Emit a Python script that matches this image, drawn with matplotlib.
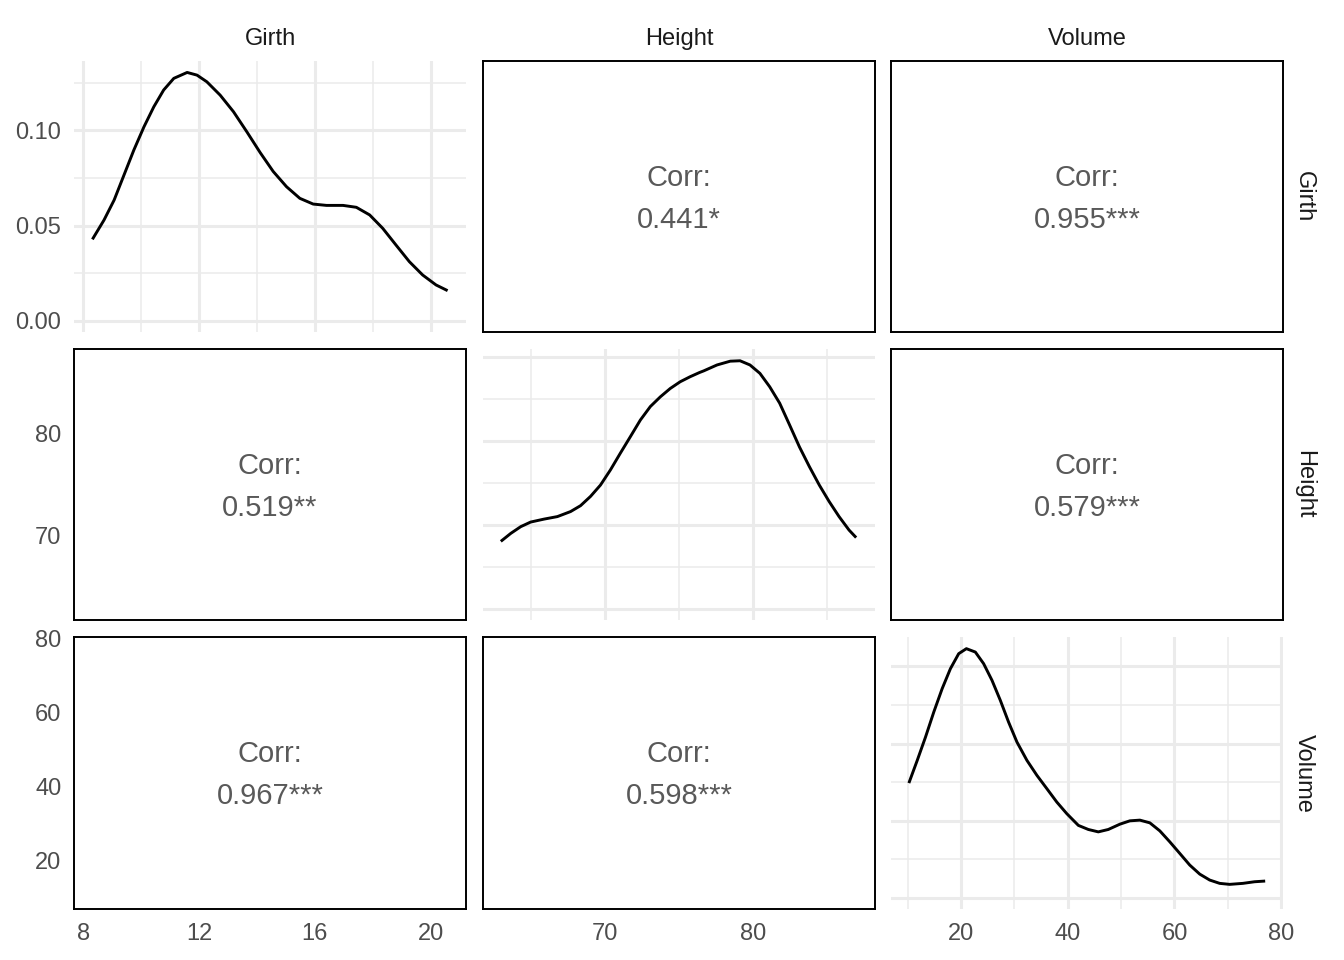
#!/usr/bin/python3
# -*- coding: utf-8 -*-
import matplotlib
matplotlib.use('Agg')
from matplotlib import pyplot as plt

plt.rcParams['font.family'] = ['Liberation Sans', 'DejaVu Sans']

# 变量名称和相关系数
var_names = ['Girth', 'Height', 'Volume']
corr_labels = {(0, 1): '0.441*', (0, 2): '0.955***', (1, 2): '0.579***',
               (1, 0): '0.519**', (2, 0): '0.967***', (2, 1): '0.598***'}

# 各变量坐标范围
var_limits = {'Girth': (7.685, 21.215), 'Height': (61.8, 88.2), 'Volume': (6.86, 80.34)}
var_ticks = {'Girth': [8, 12, 16, 20], 'Height': [70, 80], 'Volume': [20, 40, 60, 80]}
var_minor = {'Girth': [10, 14, 18], 'Height': [65, 75, 85], 'Volume': [10, 30, 50, 70]}

# 密度曲线
girth_x = [8.32, 8.72, 9.07, 9.41, 9.75, 10.10, 10.44, 10.78, 11.13, 11.59, 11.93, 12.27,
           12.73, 13.19, 13.65, 14.11, 14.56, 15.02, 15.48, 15.94, 16.40, 16.97, 17.43,
           17.89, 18.34, 18.80, 19.26, 19.72, 20.18, 20.58]
girth_d = [0.0428, 0.0529, 0.0634, 0.0765, 0.0896, 0.1018, 0.1123, 0.1211, 0.1272, 0.1303,
           0.1289, 0.1254, 0.1184, 0.1097, 0.0992, 0.0883, 0.0784, 0.0704, 0.0643, 0.0613,
           0.0606, 0.0606, 0.0596, 0.0556, 0.0486, 0.0398, 0.0311, 0.0241, 0.0189, 0.0159]

height_x = [63.0, 63.67, 64.34, 65.01, 65.91, 66.81, 67.70, 68.37, 69.04, 69.71, 70.38, 71.05,
            71.72, 72.40, 73.07, 73.74, 74.41, 75.08, 75.75, 76.38, 76.67, 77.56, 78.45,
            79.11, 79.78, 80.45, 81.11, 81.78, 82.45, 83.11, 83.78, 84.45, 85.11, 85.78,
            86.45, 86.93]
height_d = [0.0161, 0.0180, 0.0196, 0.0207, 0.0214, 0.0220, 0.0232, 0.0246, 0.0268, 0.0295,
            0.0331, 0.0371, 0.0410, 0.0450, 0.0482, 0.0505, 0.0525, 0.0541, 0.0553, 0.0563,
            0.0567, 0.0581, 0.0590, 0.0591, 0.0581, 0.0561, 0.0529, 0.0490, 0.0438, 0.0386,
            0.0339, 0.0295, 0.0256, 0.0220, 0.0188, 0.0170]

volume_x = [10.21, 11.78, 13.33, 14.88, 16.45, 18.0, 19.55, 20.99, 22.67, 24.22, 25.79,
            27.35, 28.90, 30.47, 32.34, 34.21, 36.07, 37.94, 39.81, 41.98, 43.85, 45.72,
            47.59, 49.78, 51.64, 53.51, 55.38, 57.25, 59.12, 60.99, 62.86, 64.73, 66.60,
            68.47, 70.34, 72.82, 75.01, 77.0]
volume_d = [0.01488, 0.01782, 0.02084, 0.02408, 0.02711, 0.02970, 0.03164, 0.03229, 0.03185,
            0.03035, 0.02819, 0.02560, 0.02278, 0.02019, 0.01782, 0.01588, 0.01416, 0.01242,
            0.01092, 0.00940, 0.00887, 0.00856, 0.00887, 0.00956, 0.00999, 0.01008, 0.00973,
            0.00869, 0.00727, 0.00577, 0.00426, 0.00309, 0.00232, 0.00189, 0.00176, 0.00189,
            0.00210, 0.00219]

dens_x = {'Girth': girth_x, 'Height': height_x, 'Volume': volume_x}
dens_y = {'Girth': girth_d, 'Height': height_d, 'Volume': volume_d}
dens_limits = {'Girth': (-0.00577, 0.1363), 'Height': (-0.00262, 0.0619), 'Volume': (-0.00143, 0.0338)}
dens_ticks = {'Girth': [0.0, 0.05, 0.10], 'Height': [0.0, 0.02, 0.04, 0.06], 'Volume': [0.0, 0.01, 0.02, 0.03]}
dens_minor = {'Girth': [0.025, 0.075, 0.125], 'Height': [0.01, 0.03, 0.05], 'Volume': [0.005, 0.015, 0.025]}

W, H = 1344, 960
col_px = [(74, 466), (483, 875), (891, 1283)]
row_px = [(61, 332), (349, 620), (637, 909)]
GRID = '#EBEBEB'
TICK = '#4D4D4D'

fig = plt.figure(figsize=(W / 100, H / 100), dpi=100)

for i, rv in enumerate(var_names):
    for j, cv in enumerate(var_names):
        x0, x1 = col_px[j]
        y0, y1 = row_px[i]
        ax = fig.add_axes([x0 / W, 1 - y1 / H, (x1 - x0) / W, (y1 - y0) / H])
        ax.set_xlim(var_limits[cv])
        ax.set_xticks(var_ticks[cv])
        ax.tick_params(length=0, labelsize=17, labelcolor=TICK, pad=10)
        ax.tick_params(axis='y', pad=9)
        if i == j:
            # 对角线：密度曲线
            ax.set_ylim(dens_limits[cv])
            ax.set_yticks(dens_ticks[cv])
            ax.set_xticks(var_minor[cv], minor=True)
            ax.set_yticks(dens_minor[cv], minor=True)
            ax.tick_params(which='minor', length=0)
            ax.grid(True, which='major', color=GRID, linewidth=2.2)
            ax.grid(True, which='minor', color=GRID, linewidth=1.1)
            ax.set_axisbelow(True)
            for s in ax.spines.values():
                s.set_visible(False)
            ax.plot(dens_x[cv], dens_y[cv], color='black', linewidth=2.1,
                    solid_capstyle='butt', solid_joinstyle='round')
            ax.yaxis.set_major_formatter(plt.FuncFormatter(lambda v, p: '%.2f' % v))
        else:
            # 非对角线：相关系数
            ax.set_ylim(var_limits[rv])
            ax.set_yticks(var_ticks[rv])
            for s in ax.spines.values():
                s.set_linewidth(1.4)
                s.set_color('black')
            ax.text(0.5, 0.5 + 19 / (y1 - y0), 'Corr:', transform=ax.transAxes,
                    ha='center', va='center', fontsize=21, color='#595959')
            ax.text(0.5, 0.5 - 23 / (y1 - y0), corr_labels[(i, j)], transform=ax.transAxes,
                    ha='center', va='center', fontsize=21, color='#595959')
        if j != 0:
            ax.tick_params(labelleft=False)
        if i != 2:
            ax.tick_params(labelbottom=False)

# 分面标签
for j, name in enumerate(var_names):
    x0, x1 = col_px[j]
    fig.text((x0 + x1) / 2 / W, 1 - 39 / H, name, ha='center', va='center',
             fontsize=17, color='#1A1A1A')
for i, name in enumerate(var_names):
    y0, y1 = row_px[i]
    fig.text(1304 / W, 1 - (y0 + y1) / 2 / H, name, ha='center', va='center',
             rotation=-90, fontsize=17, color='#1A1A1A')

fig.savefig('out.png', dpi=100, facecolor='white')
plt.close(fig)
